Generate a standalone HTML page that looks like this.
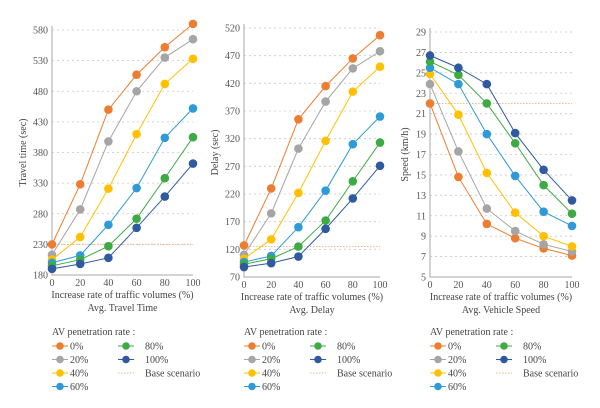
<!DOCTYPE html>
<html><head><meta charset="utf-8"><style>
html,body{margin:0;padding:0;background:#fff}
svg{display:block;font-family:"Liberation Serif",serif}
</style></head><body>
<svg id="c" width="600" height="408" viewBox="0 0 600 408"></svg>
<script>
const xCats=[0,20,40,60,80,100];
const seriesNames=["0%","20%","40%","60%","80%","100%"];
const colors=["#ED7D31","#A5A5A5","#FFC000","#2E9AD8","#3DAA44","#2F5AA0"];
const ttVals=[[230,328,450,507,552,590],[213,287,398,480,535,565],[205,242,321,410,492,533],[200,212,262,322,404,452],[195,205,227,272,338,405],[190,198,208,257,308,362]];
const ttTicks=[180,230,280,330,380,430,480,530,580];
const ttBase=230;
const dlVals=[[127,230,355,415,465,507],[110,185,302,387,447,478],[103,138,222,316,405,450],[97,108,160,226,310,360],[93,103,125,172,243,313],[88,95,107,157,212,271]];
const dlTicks=[70,120,170,220,270,320,370,420,470,520];
const dlBase=125;
const spVals=[[22,14.8,10.2,8.8,7.8,7.1],[23.9,17.3,11.7,9.5,8.2,7.5],[24.9,20.9,15.2,11.3,9,8],[25.5,23.9,19,14.9,11.4,10],[26.1,24.8,22,18.1,14,11.2],[26.7,25.5,23.9,19.1,15.5,12.5]];
const spTicks=[5,7,9,11,13,15,17,19,21,23,25,27,29];
const spBase=22;

const NS="http://www.w3.org/2000/svg";
const svg=document.getElementById('c');
function el(t,a,p){const e=document.createElementNS(NS,t);for(const k in a)e.setAttribute(k,a[k]);(p||svg).appendChild(e);return e;}
function txt(s,a,p){const e=el('text',a,p);e.textContent=s;return e;}

const panels=[
 {name:'travel-time',vals:ttVals,ticks:ttTicks,base:ttBase,x0:52,x1:193,yTop:30,yBot:275,ylab:'Travel time (sec)',ylx:26,title:'Avg. Travel Time'},
 {name:'delay',vals:dlVals,ticks:dlTicks,base:dlBase,x0:244,x1:380,yTop:28,yBot:277,ylab:'Delay (sec)',ylx:218,title:'Avg. Delay'},
 {name:'speed',vals:spVals,ticks:spTicks,base:spBase,x0:430,x1:572,yTop:32,yBot:277,ylab:'Speed (km/h)',ylx:408,title:'Avg. Vehicle Speed'}
];
panels.forEach(P=>{
 const g=el('g',{});
 
 
 const mn=P.ticks[0],mx=P.ticks[P.ticks.length-1];
 const ys=v=>P.yBot-(v-mn)/(mx-mn)*(P.yBot-P.yTop);
 const xs=v=>P.x0+v/100*(P.x1-P.x0);
 P.ticks.forEach((t,i)=>{
  if(i>0){const l=el('line',{x1:P.x0,x2:P.x1,y1:ys(t),y2:ys(t),stroke:'#c8c8c8','stroke-width':0.8,'stroke-dasharray':'2,3'},g);
  }
  const tl=txt(String(t),{x:P.x0-4,y:ys(t)+3.5,'text-anchor':'end','font-size':10,fill:'#555'},g);
  
 });
 const ax=el('path',{d:`M${P.x0},${P.yTop-4}V${P.yBot}H${P.x1}`,fill:'none',stroke:'#aaa','stroke-width':1},g);
 
 xCats.forEach(c=>{const tl=txt(String(c),{x:xs(c),y:P.yBot+11,'text-anchor':'middle','font-size':10,fill:'#555'},g);
  });
 const xt=txt('Increase rate of traffic volumes (%)',{x:(P.x0+P.x1)/2,y:P.yBot+23,'text-anchor':'middle','font-size':10,fill:'#444'},g);
 
 const yt=txt(P.ylab,{x:0,y:0,transform:`translate(${P.ylx},${(P.yTop+P.yBot)/2}) rotate(-90)`,'text-anchor':'middle','font-size':10,fill:'#444'},g);
 
 const tt=txt(P.title,{x:(P.x0+P.x1)/2,y:P.yBot+36,'text-anchor':'middle','font-size':10,fill:'#444'},g);
 
 const bl=el('line',{x1:P.x0,x2:P.x1,y1:ys(P.base),y2:ys(P.base),stroke:'#F4B183','stroke-width':0.9,'stroke-dasharray':'1.5,1.5'},g);
 
 P.vals.forEach((vals,si)=>{
  const pts=vals.map((v,i)=>xs(xCats[i])+','+ys(v)).join(' ');
  const pl=el('polyline',{points:pts,fill:'none',stroke:colors[si],'stroke-width':1},g);
  
  
  vals.forEach((v,i)=>{const c=el('circle',{cx:xs(xCats[i]),cy:ys(v),r:4.3,fill:colors[si]},g);
   });
 });
 const L=el('g',{});
 
 const lx=P.x0;
 txt('AV penetration rate :',{x:lx,y:335,'font-size':10,fill:'#444'},L);
 const pos=[[0,0],[0,1],[0,2],[0,3],[1,0],[1,1],[1,2]];
 const names=seriesNames.concat(['Base scenario']);
 names.forEach((n,i)=>{
  const [col,row]=pos[i];const bx=lx+col*66;const y=346+row*13.5;
  const e=el('g',{},L);
  
  if(i<6){el('line',{x1:bx,x2:bx+16,y1:y,y2:y,stroke:colors[i],'stroke-width':1},e);
   el('circle',{cx:bx+8,cy:y,r:3.8,fill:colors[i]},e);}
  else el('line',{x1:bx,x2:bx+16,y1:y,y2:y,stroke:'#F4B183','stroke-width':0.9,'stroke-dasharray':'1.5,1.5'},e);
  txt(n,{x:bx+(col?27:18),y:y+3.5,'font-size':10,fill:'#444'},e);
 });
});
</script>
</body></html>
